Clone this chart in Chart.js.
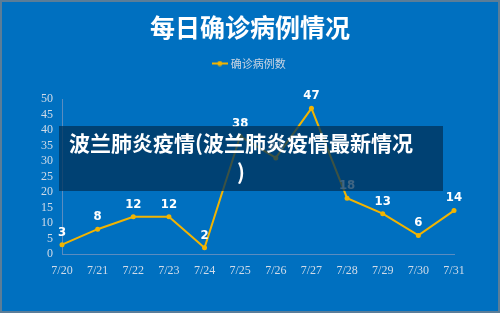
<!DOCTYPE html>
<html>
<head>
<meta charset="utf-8">
<script src="https://cdn.jsdelivr.net/npm/chart.js@4"></script>
<style>
  html, body { margin: 0; padding: 0; background: #5b7d98; }
  #wrap { position: relative; width: 500px; height: 313px; box-sizing: border-box; border: 2px solid #5b7d98; background: #0070c0; }
  #banner { position: absolute; left: 57px; top: 124px; width: 384px; height: 65px; background: rgba(0, 50, 90, 0.75); }
  #banner div { position: absolute; left: 2px; top: 2px; width: 360px; text-align: center; color: #fff;
    font: bold 21px/29px "Noto Sans CJK SC", sans-serif; }
</style>
</head>
<body>
<div id="wrap">
  <canvas id="myChart" width="496" height="309"></canvas>
  <div id="banner"><div>波兰肺炎疫情(波兰肺炎疫情最新情况<br>)</div></div>
</div>
<script>
const days = ['7/20', '7/21', '7/22', '7/23', '7/24', '7/25', '7/26', '7/27', '7/28', '7/29', '7/30', '7/31'];
const cases = [3, 8, 12, 12, 2, 38, 31, 47, 18, 13, 6, 14];
const yMin = 0;
const yMax = 50;
const yStep = 5;

const lineColor = '#f2b400';

// legend symbol: short line with a dot
const legendMark = document.createElement('canvas');
legendMark.width = 16;
legendMark.height = 6;
const lm = legendMark.getContext('2d');
lm.fillStyle = lineColor;
lm.fillRect(0, 2, 16, 2);
lm.beginPath();
lm.arc(8, 3, 2.5, 0, Math.PI * 2);
lm.fill();

const pointLabels = {
  id: 'pointLabels',
  beforeInit(chart) {
    // extra room under the legend
    const fit = chart.legend.fit;
    chart.legend.fit = function () {
      fit.call(this);
      this.height += 20;
    };
  },
  afterLayout(chart) {
    // centre title and legend on the whole canvas, not the padded box
    [chart.titleBlock, chart.legend].forEach(b => {
      b.left = 0;
      b.right = chart.width;
      b.width = chart.width;
    });
  },
  // values over each point
  afterDatasetsDraw(chart) {
    const ctx = chart.ctx;
    const meta = chart.getDatasetMeta(0);
    ctx.save();
    ctx.fillStyle = '#ffffff';
    ctx.font = 'bold 13px "DejaVu Sans Condensed", sans-serif';
    ctx.textAlign = 'center';
    ctx.textBaseline = 'bottom';
    meta.data.forEach((pt, i) => {
      ctx.fillText(cases[i], pt.x, pt.y - 6);
    });
    ctx.restore();
  }
};

const ctx = document.getElementById('myChart');
new Chart(ctx, {
  type: 'line',
  data: {
    labels: days,
    datasets: [{
      label: '确诊病例数',
      data: cases,
      borderColor: lineColor,
      backgroundColor: lineColor,
      borderWidth: 2,
      pointRadius: 2.5,
      pointBorderWidth: 0,
      pointStyle: 'circle',
      tension: 0
    }]
  },
  options: {
    responsive: false,
    animation: false,
    layout: { padding: { top: 0, right: 44, bottom: 0, left: 0 } },
    plugins: {
      title: {
        display: true,
        text: '每日确诊病例情况',
        color: '#ffffff',
        font: { family: '"Noto Sans CJK SC", sans-serif', size: 25, weight: 'bold' },
        padding: { top: 10, bottom: 6 }
      },
      legend: {
        display: true,
        labels: {
          color: '#c9d5e3',
          font: { family: '"Noto Sans CJK SC", sans-serif', size: 11 },
          usePointStyle: true,
          pointStyle: legendMark,
          padding: 10,
          generateLabels(chart) {
            return [{
              text: chart.data.datasets[0].label,
              fontColor: '#c9d5e3',
              pointStyle: legendMark,
              datasetIndex: 0
            }];
          }
        }
      },
      tooltip: { enabled: false }
    },
    scales: {
      x: {
        offset: false,
        grid: { display: false, drawTicks: false },
        border: { color: '#5a8cc0', width: 1 },
        ticks: { color: '#d0dbe8', font: { family: '"Liberation Serif", serif', size: 12 }, padding: 10, maxRotation: 0 },
        afterFit(scale) { scale.height = 57; }
      },
      y: {
        min: yMin,
        max: yMax,
        grid: { display: false, drawTicks: false },
        border: { color: '#5a8cc0', width: 1 },
        ticks: { stepSize: yStep, autoSkip: false, color: '#d0dbe8', font: { family: '"Liberation Serif", serif', size: 12 }, padding: 9 },
        afterFit(scale) { scale.width = 60; }
      }
    }
  },
  plugins: [pointLabels]
});
</script>
</body>
</html>
